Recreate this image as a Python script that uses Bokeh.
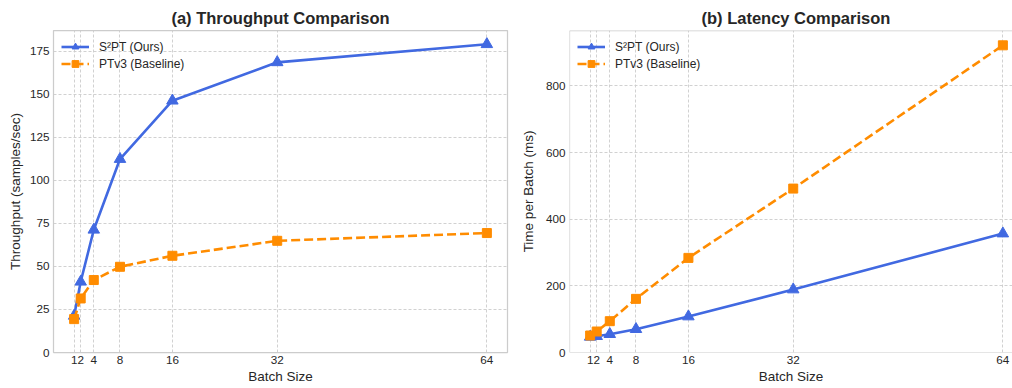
from bokeh.plotting import figure
from bokeh.layouts import row
from bokeh.models import FixedTicker, Range1d, Span
from bokeh.embed import file_html
from bokeh.resources import INLINE

batch = [1, 2, 4, 8, 16, 32, 64]
s2pt_throughput = [21.3, 41.1, 71.3, 112.4, 146.3, 168.6, 179.1]
ptv3_throughput = [19.4, 31.4, 42.1, 49.8, 56.2, 64.9, 69.4]
s2pt_latency = [47, 49, 55, 70, 108, 189, 357]
ptv3_latency = [51, 63, 94, 161, 284, 492, 922]
throughput_ticks = [0, 25, 50, 75, 100, 125, 150, 175]
latency_ticks = [0, 200, 400, 600, 800]

BLUE = "#4169E1"
ORANGE = "#FF8C00"
TEXT = "#262626"
EDGE = "#cccccc"
FONT = "Liberation Sans"


def make_fig(title, ylabel, s_vals, p_vals, x_end, y_end, yticks, border_left, fw,
             border_right, label_standoff, title_offset=None, open_right=False):
    p = figure(frame_width=fw, frame_height=322,
               x_range=Range1d(-2.15, x_end), y_range=Range1d(0, y_end),
               output_backend="svg", toolbar_location=None,
               min_border_left=border_left, min_border_right=border_right,
               min_border_top=30, min_border_bottom=34)
    p.title.text = title
    if title_offset is None:
        p.title.align = "center"
    else:
        p.title.align = "left"
        p.title.offset = title_offset
    p.title.text_font = FONT
    p.title.text_font_size = "16.5px"
    p.title.text_font_style = "bold"
    p.title.text_color = TEXT
    p.title.standoff = 8

    p.background_fill_color = "white"
    p.border_fill_color = "white"
    if open_right:
        p.outline_line_color = None
        p.add_layout(Span(location=-2.15, dimension="height", line_color=EDGE, line_width=1.25))
        p.add_layout(Span(location=0, dimension="width", line_color=EDGE, line_width=1.25))
        p.add_layout(Span(location=y_end, dimension="width", line_color=EDGE, line_width=1.25))
    else:
        p.outline_line_color = EDGE
        p.outline_line_width = 1.25

    p.xaxis.ticker = FixedTicker(ticks=batch)
    p.yaxis.ticker = FixedTicker(ticks=yticks)
    for ax in (p.xaxis, p.yaxis):
        ax.axis_line_color = None
        ax.major_tick_line_color = None
        ax.minor_tick_line_color = None
        ax.major_tick_out = 0
        ax.major_tick_in = 0
        ax.minor_tick_out = 0
        ax.minor_tick_in = 0
        ax.major_label_text_font = FONT
        ax.major_label_text_font_size = "11.7px"
        ax.major_label_text_color = TEXT
        ax.axis_label_text_font = FONT
        ax.axis_label_text_font_size = "13.5px"
        ax.axis_label_text_font_style = "normal"
        ax.axis_label_text_color = TEXT
    p.xaxis.axis_label = "Batch Size"
    p.yaxis.axis_label = ylabel
    p.xaxis.major_label_standoff = 3
    p.xaxis.axis_label_standoff = 2
    p.yaxis.major_label_standoff = 4
    p.yaxis.axis_label_standoff = label_standoff

    for g in (p.xgrid, p.ygrid):
        g.grid_line_color = EDGE
        g.grid_line_dash = "3 2"
        g.grid_line_width = 0.9
    p.xgrid.ticker = FixedTicker(ticks=batch)
    p.ygrid.ticker = FixedTicker(ticks=yticks)

    p.line(batch, s_vals, line_color=BLUE, line_width=2.6, legend_label="S²PT (Ours)")
    p.scatter(batch, s_vals, marker="triangle", size=11.5, fill_color=BLUE,
              line_color=BLUE, legend_label="S²PT (Ours)")
    p.line(batch, p_vals, line_color=ORANGE, line_width=2.6, line_dash="9 4",
           legend_label="PTv3 (Baseline)")
    p.scatter(batch, p_vals, marker="square", size=9, fill_color=ORANGE,
              line_color=ORANGE, legend_label="PTv3 (Baseline)")

    lg = p.legend[0]
    lg.location = "top_left"
    lg.margin = 0
    lg.padding = 8
    lg.spacing = 0
    lg.glyph_width = 28
    lg.glyph_height = 17
    lg.label_height = 17
    lg.label_standoff = 10
    lg.label_text_font = FONT
    lg.label_text_font_size = "12px"
    lg.label_text_color = TEXT
    lg.border_line_alpha = 0
    lg.background_fill_alpha = 0
    return p


p1 = make_fig("(a) Throughput Comparison", "Throughput (samples/sec)",
              s2pt_throughput, ptv3_throughput, 67.15, 187.1, throughput_ticks,
              53, 454, 3, 4)
p2 = make_fig("(b) Latency Comparison", "Time per Batch (ms)",
              s2pt_latency, ptv3_latency, 65.47, 966.5, latency_ticks,
              59, 443, 0, 7, title_offset=132, open_right=True)

layout = row(p1, p2)
open("out.html", "w").write(file_html(layout, INLINE))
